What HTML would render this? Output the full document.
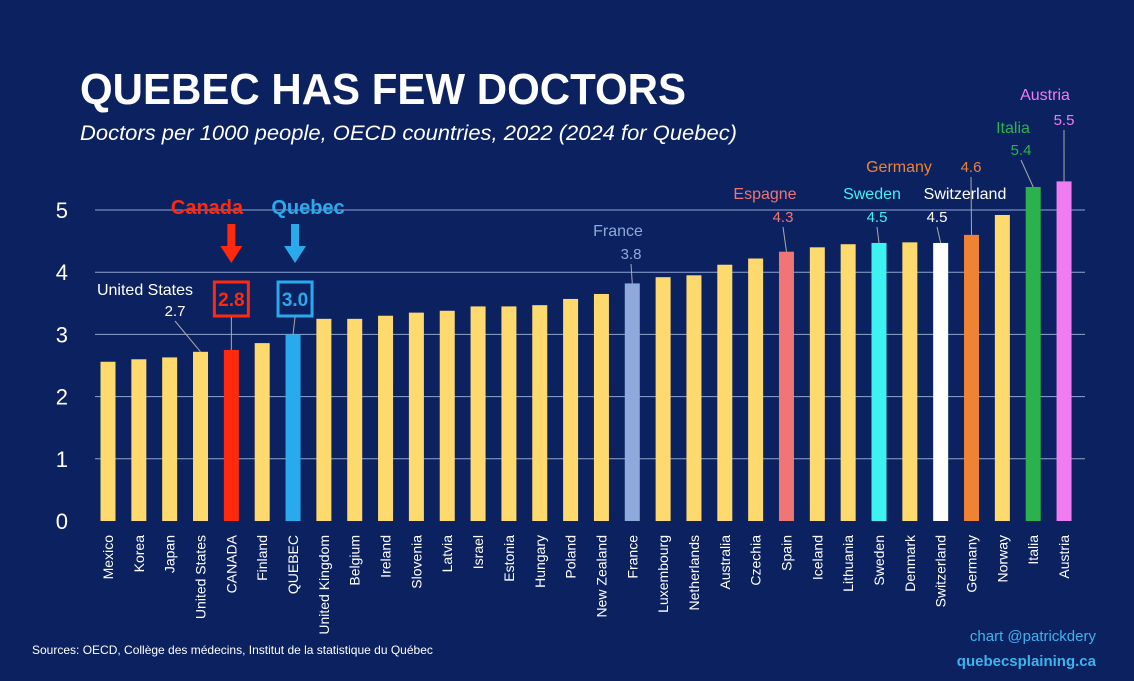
<!DOCTYPE html>
<html><head><meta charset="utf-8"><style>
html,body{margin:0;padding:0;background:#0c2260;}
svg{display:block;font-family:"Liberation Sans",sans-serif;}
</style></head><body>
<svg id="c" width="1134" height="681">
<rect width="1134" height="681" fill="#0c2260"/>
<text x="80" y="104" fill="#fff" font-size="44" font-weight="bold" textLength="606" lengthAdjust="spacingAndGlyphs">QUEBEC HAS FEW DOCTORS</text>
<text x="80" y="140" fill="#fff" font-size="21" font-style="italic" textLength="657" lengthAdjust="spacingAndGlyphs">Doctors per 1000 people, OECD countries, 2022 (2024 for Quebec)</text>
<g id="grid"></g><g id="bars"></g><g id="xl"></g><g id="ann"></g>
<text x="32" y="654" fill="#fff" font-size="12">Sources: OECD, Collège des médecins, Institut de la statistique du Québec</text>
<text x="1096" y="641" fill="#3fb3ee" font-size="15" text-anchor="end">chart @patrickdery</text>
<text x="1096" y="666" fill="#3fb3ee" font-size="15" font-weight="bold" text-anchor="end">quebecsplaining.ca</text>
</svg>
<script>
const categories=["Mexico","Korea","Japan","United States","CANADA","Finland","QUEBEC","United Kingdom","Belgium","Ireland","Slovenia","Latvia","Israel","Estonia","Hungary","Poland","New Zealand","France","Luxembourg","Netherlands","Australia","Czechia","Spain","Iceland","Lithuania","Sweden","Denmark","Switzerland","Germany","Norway","Italia","Austria"];
const values=[2.56,2.6,2.63,2.72,2.75,2.86,3.0,3.25,3.25,3.3,3.35,3.38,3.45,3.45,3.47,3.57,3.65,3.82,3.92,3.95,4.12,4.22,4.33,4.4,4.45,4.47,4.48,4.47,4.6,4.92,5.37,5.46];
const yTicks=[0,1,2,3,4,5];
const highlight={"CANADA":"#ff2a0e","QUEBEC":"#2aa9ec","France":"#8ea9dc","Spain":"#f07575","Sweden":"#3ef2f2","Switzerland":"#ffffff","Germany":"#ef8333","Italia":"#2bb24c","Austria":"#ef7cf2"};
const NS="http://www.w3.org/2000/svg";
const y0=521,unit=62.2,x0=108,step=30.84,bw=15;
const Y=v=>y0-v*unit, X=i=>x0+i*step;
function mk(tag,attrs,parent,txt){const e=document.createElementNS(NS,tag);for(const k in attrs)e.setAttribute(k,attrs[k]);if(txt!==undefined)e.textContent=txt;document.getElementById(parent).appendChild(e);return e;}
yTicks.forEach(t=>{
  if(t>0){const l=mk("line",{x1:95,x2:1085,y1:Y(t),y2:Y(t),stroke:"#8fa6cf","stroke-width":1},"grid");
  
  }
  const tx=mk("text",{x:68,y:Y(t)+8,fill:"#fff","font-size":22,"text-anchor":"end"},"grid",t);
  
  
});
categories.forEach((c,i)=>{
  const r=mk("rect",{x:X(i)-bw/2,y:Y(values[i]),width:bw,height:values[i]*unit,fill:highlight[c]||"#fdd96e"},"bars");
  
  
  const t=mk("text",{transform:`translate(${X(i)+5},535) rotate(-90)`,fill:"#fff","font-size":14,"text-anchor":"end"},"xl",c);
  
  
});
function idx(c){return categories.indexOf(c);}
function lbl(c,name,nx,ny,vx,vy,col){
  const i=idx(c);
  const a=mk("text",{x:nx,y:ny,fill:col,"font-size":16,"text-anchor":"middle"},"ann",name);
  
  
  const b=mk("text",{x:vx,y:vy,fill:col,"font-size":15,"text-anchor":"middle"},"ann",values[i].toFixed(1));
  
  
  const l=mk("line",{x1:vx,y1:vy+5,x2:X(i),y2:Y(values[i]),stroke:"#aaa","stroke-width":1},"ann");
  
  
}
lbl("United States","United States",145,295,175,316,"#fff");
lbl("France","France",618,236,631,259,"#8ea9dc");
lbl("Spain","Espagne",765,199,783,222,"#f07575");
lbl("Sweden","Sweden",872,199,877,222,"#3ef2f2");
lbl("Switzerland","Switzerland",965,199,937,222,"#fff");
lbl("Germany","Germany",899,172,971,172,"#ef8333");
lbl("Italia","Italia",1013,133,1021,155,"#2bb24c");
lbl("Austria","Austria",1045,100,1064,125,"#ef7cf2");
[["CANADA","Canada","#ff2a0e",207],["QUEBEC","Quebec","#2aa9ec",308]].forEach(([c,n,col,tx])=>{
  const i=idx(c),cx=X(i)+(c==="CANADA"?0:2);
  const t=mk("text",{x:tx,y:214,fill:col,"font-size":20,"font-weight":"bold","text-anchor":"middle"},"ann",n);
  
  
  const ar=mk("path",{d:`M${cx-4},224 h8 v22 h7 l-11,17 l-11,-17 h7 z`,fill:col},"ann");
  
  
  const bx=mk("rect",{x:cx-17,y:282,width:34,height:34,fill:"none",stroke:col,"stroke-width":3},"ann");
  
  
  const v=mk("text",{x:cx,y:306,fill:col,"font-size":19,"font-weight":"bold","text-anchor":"middle"},"ann",values[i].toFixed(1));
  
  
  const l=mk("line",{x1:cx,y1:317,x2:X(i),y2:Y(values[i]),stroke:"#aaa","stroke-width":1},"ann");
  
  
});
</script>
</body></html>
